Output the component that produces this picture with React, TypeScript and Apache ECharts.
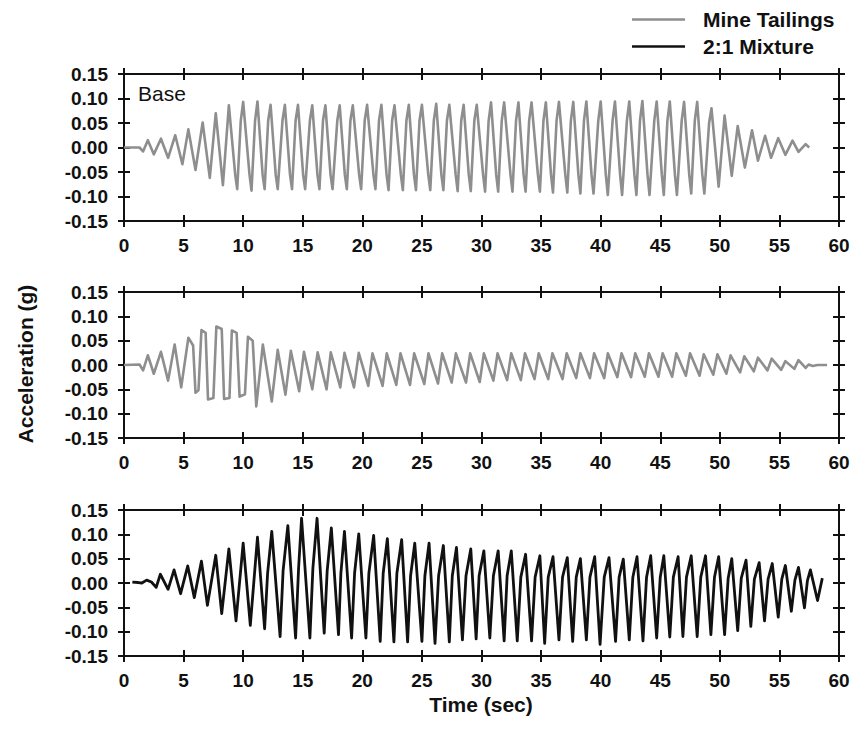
import React, { useEffect, useRef } from "react";
import * as echarts from "echarts";

// ---- axis ranges / ticks ----
const X_MIN = 0;
const X_MAX = 60;
const X_STEP = 5;
const Y_MIN = -0.15;
const Y_MAX = 0.15;
const Y_STEP = 0.05;

// ---- legend / labels ----
const legendNames = ["Mine Tailings", "2:1 Mixture"];
const panelLabel = "Base";
const xTitle = "Time (sec)";
const yTitle = "Acceleration (g)";

// ---- data: [time (s), acceleration (g)] ----
const baseMotion: [number, number][] = [
  [0, 0], [1.3, 0], [1.6, -0.008], [2.0, 0.015], [2.5, -0.014], [3.1, 0.018], [3.7, -0.021],
  [4.3, 0.025], [4.9, -0.034], [5.4, 0.037], [6.0, -0.046], [6.6, 0.051], [7.2, -0.062],
  [7.7, 0.07], [8.3, -0.077], [8.8, 0.086],
  [9.33, -0.055], [9.5, -0.085], [9.8, 0.055], [10.0, 0.093],
  [10.53, -0.055], [10.7, -0.088], [11.0, 0.055], [11.2, 0.094],
  [11.63, -0.055], [11.8, -0.085], [12.1, 0.055], [12.3, 0.087],
  [12.73, -0.055], [12.9, -0.085], [13.3, 0.055], [13.5, 0.087],
  [13.93, -0.055], [14.1, -0.085], [14.4, 0.055], [14.6, 0.087],
  [15.03, -0.055], [15.2, -0.085], [15.6, 0.055], [15.8, 0.086],
  [16.23, -0.055], [16.4, -0.085], [16.7, 0.055], [16.9, 0.086],
  [17.33, -0.055], [17.5, -0.085], [17.9, 0.055], [18.1, 0.086],
  [18.53, -0.055], [18.7, -0.085], [19.0, 0.055], [19.2, 0.086],
  [19.73, -0.055], [19.9, -0.085], [20.2, 0.055], [20.4, 0.087],
  [20.93, -0.055], [21.1, -0.085], [21.4, 0.055], [21.6, 0.087],
  [22.03, -0.055], [22.2, -0.087], [22.5, 0.055], [22.7, 0.086],
  [23.23, -0.055], [23.4, -0.087], [23.7, 0.055], [23.9, 0.087],
  [24.33, -0.055], [24.5, -0.087], [24.8, 0.055], [25.0, 0.087],
  [25.53, -0.055], [25.7, -0.087], [26.0, 0.055], [26.2, 0.089],
  [26.63, -0.055], [26.8, -0.087], [27.1, 0.055], [27.3, 0.087],
  [27.83, -0.055], [28.0, -0.089], [28.3, 0.055], [28.5, 0.087],
  [28.93, -0.055], [29.1, -0.089], [29.4, 0.055], [29.6, 0.087],
  [30.13, -0.055], [30.3, -0.09], [30.6, 0.055], [30.8, 0.092],
  [31.23, -0.055], [31.4, -0.09], [31.7, 0.055], [31.9, 0.092],
  [32.43, -0.055], [32.6, -0.09], [32.9, 0.055], [33.1, 0.092],
  [33.53, -0.055], [33.7, -0.09], [34.0, 0.055], [34.2, 0.092],
  [34.73, -0.055], [34.9, -0.09], [35.2, 0.055], [35.4, 0.092],
  [35.83, -0.055], [36.0, -0.092], [36.3, 0.055], [36.5, 0.093],
  [37.03, -0.055], [37.2, -0.092], [37.5, 0.055], [37.7, 0.093],
  [38.13, -0.055], [38.3, -0.094], [38.6, 0.055], [38.8, 0.094],
  [39.23, -0.055], [39.4, -0.094], [39.8, 0.055], [40.0, 0.094],
  [40.43, -0.055], [40.6, -0.097], [41.0, 0.055], [41.2, 0.094],
  [41.63, -0.055], [41.8, -0.097], [42.2, 0.055], [42.4, 0.094],
  [42.83, -0.055], [43.0, -0.097], [43.3, 0.055], [43.5, 0.095],
  [43.93, -0.055], [44.1, -0.097], [44.5, 0.055], [44.7, 0.094],
  [45.13, -0.055], [45.3, -0.097], [45.6, 0.055], [45.8, 0.094],
  [46.23, -0.055], [46.4, -0.097], [46.8, 0.055], [47.0, 0.093],
  [47.43, -0.055], [47.6, -0.094], [47.9, 0.055], [48.1, 0.093],
  [48.53, -0.055], [48.7, -0.094], [49.1, 0.05], [49.3, 0.08],
  [49.9, -0.08], [50.4, 0.065], [51.0, -0.058], [51.5, 0.044], [52.1, -0.041],
  [52.7, 0.035], [53.2, -0.027], [53.8, 0.024], [54.3, -0.021], [54.9, 0.019], [55.5, -0.015],
  [56.1, 0.014], [56.6, -0.009], [57.2, 0.007], [57.5, 0.0],
];

const mineTailings: [number, number][] = [
  [0, 0], [1.3, 0.001], [1.6, -0.011], [2.0, 0.02], [2.5, -0.018], [3.1, 0.027], [3.7, -0.032],
  [4.25, 0.042], [4.8, -0.046], [5.4, 0.056], [5.8, 0.04], [6.0, -0.057], [6.25, -0.052],
  [6.5, 0.072], [6.85, 0.066], [7.05, -0.071], [7.5, -0.068], [7.75, 0.079], [8.2, 0.074],
  [8.4, -0.07], [8.85, -0.068], [9.05, 0.071], [9.45, 0.066], [9.7, -0.065], [10.15, -0.06],
  [10.4, 0.058], [10.8, 0.05], [11.1, -0.085], [11.65, 0.042], [12.4, -0.075], [12.9, 0.031],
  [13.55, -0.061], [14.0, 0.029], [14.7, -0.054], [15.1, 0.027], [15.8, -0.05], [16.25, 0.026],
  [17.0, -0.05], [17.35, 0.026], [18.15, -0.046], [18.5, 0.025], [19.3, -0.046], [19.7, 0.025],
  [20.5, -0.043], [20.85, 0.024], [21.7, -0.043], [22.05, 0.024], [22.85, -0.041], [23.2, 0.024],
  [24.0, -0.041], [24.35, 0.024], [25.2, -0.039], [25.55, 0.024], [26.35, -0.038], [26.7, 0.024],
  [27.5, -0.036], [27.85, 0.024], [28.7, -0.036], [29.05, 0.024], [29.85, -0.035], [30.2, 0.024],
  [31.0, -0.032], [31.35, 0.024], [32.15, -0.031], [32.5, 0.024], [33.3, -0.031], [33.65, 0.024],
  [34.45, -0.029], [34.8, 0.024], [35.6, -0.029], [35.95, 0.024], [36.8, -0.029], [37.15, 0.024],
  [37.95, -0.027], [38.3, 0.024], [39.1, -0.027], [39.45, 0.024], [40.3, -0.027], [40.6, 0.024],
  [41.4, -0.025], [41.75, 0.024], [42.55, -0.025], [42.9, 0.024], [43.7, -0.024], [44.05, 0.024],
  [44.85, -0.024], [45.2, 0.024], [46.0, -0.024], [46.35, 0.024], [47.15, -0.022], [47.5, 0.024],
  [48.3, -0.022], [48.65, 0.022], [49.45, -0.02], [49.8, 0.022], [50.55, -0.018], [50.9, 0.02],
  [51.7, -0.015], [52.05, 0.018], [52.85, -0.013], [53.2, 0.015], [54.0, -0.011], [54.35, 0.013],
  [55.15, -0.01], [55.5, 0.008], [56.25, -0.008], [56.6, 0.01], [57.2, -0.006], [57.45, 0.001],
  [57.8, -0.002], [58.2, 0.0], [59.0, 0.0],
];

const mixture21: [number, number][] = [
  [0.7, 0.002], [1.2, 0.001], [1.5, 0.0], [1.9, 0.006], [2.3, 0.002], [2.7, -0.009], [3.05, 0.018],
  [3.7, -0.013], [4.2, 0.027], [4.75, -0.022], [5.35, 0.035], [5.9, -0.03], [6.5, 0.045],
  [7.0, -0.046], [7.7, 0.057], [8.2, -0.063], [8.8, 0.07], [9.4, -0.078], [10.0, 0.082],
  [10.6, -0.087], [11.2, 0.094],
  [11.8, -0.094], [12.05, 0.02], [12.4, 0.106],
  [13.1, -0.11], [13.35, 0.025], [13.75, 0.118],
  [14.4, -0.113], [14.65, 0.03], [14.9, 0.133],
  [15.6, -0.113], [15.85, 0.03], [16.2, 0.133],
  [16.8, -0.103], [17.05, 0.025], [17.4, 0.113],
  [18.0, -0.106], [18.2, 0.02], [18.5, 0.106],
  [19.1, -0.113], [19.35, 0.02], [19.7, 0.101],
  [20.3, -0.113], [20.55, 0.02], [20.95, 0.098],
  [21.5, -0.12], [21.75, 0.02], [22.1, 0.091],
  [22.65, -0.121], [22.9, 0.02], [23.3, 0.089],
  [23.8, -0.121], [24.05, 0.015], [24.4, 0.082],
  [25.0, -0.12], [25.25, 0.015], [25.6, 0.082],
  [26.1, -0.124], [26.4, 0.015], [26.8, 0.077],
  [27.3, -0.121], [27.55, 0.015], [27.9, 0.073],
  [28.4, -0.117], [28.7, 0.015], [29.1, 0.07],
  [29.55, -0.115], [29.8, 0.015], [30.2, 0.066],
  [30.7, -0.113], [31.0, 0.015], [31.4, 0.066],
  [31.9, -0.119], [32.15, 0.015], [32.5, 0.066],
  [33.0, -0.119], [33.3, 0.012], [33.7, 0.059],
  [34.2, -0.119], [34.5, 0.012], [34.9, 0.056],
  [35.3, -0.124], [35.6, 0.012], [36.0, 0.054],
  [36.5, -0.117], [36.8, 0.012], [37.2, 0.052],
  [37.65, -0.12], [37.95, 0.012], [38.3, 0.05],
  [38.8, -0.117], [39.1, 0.012], [39.5, 0.054],
  [39.95, -0.126], [40.3, 0.012], [40.7, 0.052],
  [41.25, -0.12], [41.55, 0.012], [41.9, 0.049],
  [42.4, -0.117], [42.7, 0.012], [43.05, 0.054],
  [43.55, -0.119], [43.85, 0.012], [44.2, 0.056],
  [44.7, -0.113], [45.0, 0.012], [45.3, 0.056],
  [45.8, -0.111], [46.1, 0.012], [46.5, 0.054],
  [46.9, -0.11], [47.2, 0.012], [47.6, 0.056],
  [48.1, -0.11], [48.4, 0.012], [48.8, 0.056],
  [49.25, -0.106], [49.55, 0.012], [49.9, 0.054],
  [50.4, -0.106], [50.7, 0.01], [51.0, 0.05],
  [51.5, -0.098], [51.8, 0.01], [52.2, 0.047],
  [52.6, -0.089], [52.9, 0.008], [53.3, 0.042],
  [53.75, -0.078], [54.05, 0.008], [54.4, 0.04],
  [54.9, -0.07], [55.2, 0.008], [55.5, 0.036],
  [56.0, -0.058], [56.3, 0.006], [56.6, 0.032],
  [57.1, -0.051], [57.35, 0.005], [57.6, 0.027],
  [58.2, -0.036], [58.6, 0.01],
];

const FONT = "'Liberation Sans', Arial, Helvetica, sans-serif";
const INK = "#111111";
const GRAY = "#8e8e8e";

const gridBoxes = [
  { left: 124, top: 74, width: 715, height: 147 },
  { left: 124, top: 292, width: 715, height: 146 },
  { left: 124, top: 510, width: 715, height: 146 },
];

export default function App() {
  const ref = useRef<HTMLDivElement>(null);

  useEffect(() => {
    if (!ref.current) return;
    const chart = echarts.init(ref.current, null, { renderer: "svg" });

    const tick = { show: true, inside: false, length: 12, lineStyle: { color: INK, width: 2 } };
    const labelStyle = { fontSize: 19, fontWeight: "bold", color: INK, fontFamily: FONT };

    const xAxis: any[] = [];
    const yAxis: any[] = [];
    gridBoxes.forEach((_, i) => {
      const xBase = {
        gridIndex: i, type: "value", min: X_MIN, max: X_MAX, interval: X_STEP,
        offset: -6, axisLine: { show: false, onZero: false }, axisTick: tick,
        splitLine: { show: false },
      };
      xAxis.push({ ...xBase, position: "bottom", axisLabel: { ...labelStyle, margin: 21 } });
      xAxis.push({ ...xBase, position: "top", axisLabel: { show: false } });
      const yBase = {
        gridIndex: i, type: "value", min: Y_MIN, max: Y_MAX, interval: Y_STEP,
        offset: -6, axisLine: { show: false, onZero: false }, axisTick: tick,
        splitLine: { show: false },
      };
      yAxis.push({
        ...yBase, position: "left",
        axisLabel: {
          ...labelStyle, margin: 22,
          formatter: (v: number) => (Math.abs(v) < 1e-9 ? "0.00" : v.toFixed(2)),
        },
      });
      yAxis.push({ ...yBase, position: "right", axisLabel: { show: false } });
    });

    const series = [
      { name: "Base", data: baseMotion, color: GRAY, width: 2.6 },
      { name: legendNames[0], data: mineTailings, color: GRAY, width: 2.6 },
      { name: legendNames[1], data: mixture21, color: INK, width: 2.8 },
    ].map((s, i) => ({
      type: "line",
      name: s.name,
      xAxisIndex: 2 * i,
      yAxisIndex: 2 * i,
      data: s.data,
      symbol: "none",
      smooth: false,
      color: s.color,
      lineStyle: { color: s.color, width: s.width, join: "round" },
      clip: true,
    }));

    chart.setOption({
      animation: false,
      backgroundColor: "#ffffff",
      grid: gridBoxes.map((g) => ({
        ...g, show: true, borderColor: INK, borderWidth: 2, backgroundColor: "transparent",
      })),
      legend: {
        data: legendNames,
        orient: "vertical",
        left: 627,
        top: 4,
        icon: "rect",
        itemWidth: 53,
        itemHeight: 2.5,
        itemGap: 6,
        textStyle: {
          fontSize: 21, lineHeight: 21, fontWeight: "bold", color: INK, fontFamily: FONT,
          padding: [0, 0, 0, 13],
        },
      },
      xAxis,
      yAxis,
      series,
      graphic: [
        {
          type: "text", left: 138, top: 83,
          style: { text: panelLabel, font: `normal 21px ${FONT}`, fill: INK },
        },
        {
          type: "text", x: 481, y: 704,
          style: { text: xTitle, font: `bold 21px ${FONT}`, fill: INK, textAlign: "center", textVerticalAlign: "middle" },
        },
        {
          type: "text", x: 25, y: 364, rotation: Math.PI / 2,
          style: { text: yTitle, font: `bold 21px ${FONT}`, fill: INK, textAlign: "center", textVerticalAlign: "middle" },
        },
      ],
    });

    return () => chart.dispose();
  }, []);

  return (
    <div
      ref={ref}
      style={{ position: "absolute", left: 0, top: 0, width: 854, height: 729, background: "#fff" }}
    />
  );
}
